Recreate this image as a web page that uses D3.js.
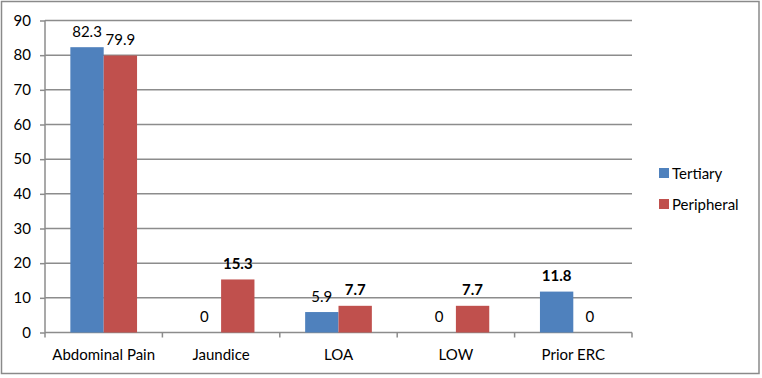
<!DOCTYPE html>
<html><head><meta charset="utf-8">
<script src="https://cdn.jsdelivr.net/npm/d3@7"></script>
<style>body{margin:0;background:#fff}svg{display:block}text{font-family:Lato,"Open Sans",sans-serif;fill:#000}</style>
</head><body>
<script>
const categories = ["Abdominal Pain","Jaundice","LOA","LOW","Prior ERC"];
const seriesNames = ["Tertiary","Peripheral"];
const tertiary = [82.3, 0, 5.9, 0, 11.8];
const peripheral = [79.9, 15.3, 7.7, 7.7, 0];
const yTicks = [0,10,20,30,40,50,60,70,80,90];
const colors = ["#4F81BD","#C0504D"];

const W=762,H=378;
const svg=d3.select("body").append("svg").attr("width",W).attr("height",H);
svg.append("rect").attr("x",1.5).attr("y",1.5).attr("width",757.5).attr("height",372).attr("fill","#fff").attr("stroke","#8a8a8a").attr("stroke-width",1.5);

const pL=45,pR=632,pT=20.5,pB=332.5;
const y=d3.scaleLinear().domain([0,90]).range([pB,pT]);
const x=d3.scaleBand().domain(categories).range([pL,pR]).paddingInner(0).paddingOuter(0);
const x1=d3.scaleBand().domain(seriesNames).range([0,x.bandwidth()]).paddingInner(0).paddingOuter(0.76);

// gridlines
svg.append("g").selectAll("line").data(yTicks.filter(d=>d>0)).join("line")
  .attr("x1",pL).attr("x2",pR).attr("y1",d=>y(d)).attr("y2",d=>y(d))
  .attr("stroke","#8c8c8c").attr("stroke-width",1.5);

// y axis
const yAxis=d3.axisLeft(y).tickValues(yTicks).tickSize(5).tickPadding(9).tickFormat(d3.format("d"));
const gy=svg.append("g").attr("transform",`translate(${pL},0)`).call(yAxis);
gy.select(".domain").attr("stroke","#8c8c8c").attr("stroke-width",1.5).attr("d",`M0,${pB}V${pT}`);
gy.selectAll(".tick line").attr("stroke","#8c8c8c").attr("stroke-width",1.5);
gy.selectAll("text").style("font-size","15px").style("font-family","Lato").attr("fill","#000");

// x axis
const gx=svg.append("g").attr("transform",`translate(0,${pB})`);
gx.append("line").attr("x1",pL).attr("x2",pR).attr("stroke","#8c8c8c").attr("stroke-width",1.5);
const bounds=categories.map(c=>x(c)).concat([pR]);
gx.selectAll(".bt").data(bounds).join("line").attr("class","bt")
  .attr("x1",d=>d).attr("x2",d=>d).attr("y1",0).attr("y2",5).attr("stroke","#8c8c8c").attr("stroke-width",1.5);
gx.selectAll(".cl").data(categories).join("text").attr("class","cl")
  .attr("x",d=>x(d)+x.bandwidth()/2).attr("y",27).attr("text-anchor","middle")
  .style("font-size","15px").text(d=>d);

// bars
const series=[tertiary,peripheral];
const bold=[[false,false,false,false,true],[false,true,true,true,false]];
series.forEach((vals,si)=>{
  const g=svg.append("g");
  g.selectAll("rect").data(vals).join("rect")
    .attr("x",(d,i)=>x(categories[i])+x1(seriesNames[si]))
    .attr("width",x1.bandwidth())
    .attr("y",d=>y(d)).attr("height",d=>pB-y(d))
    .attr("fill",colors[si]);
  g.selectAll("text").data(vals).join("text")
    .attr("x",(d,i)=>x(categories[i])+x1(seriesNames[si])+x1.bandwidth()/2)
    .attr("y",d=>y(d)-10.5).attr("text-anchor","middle")
    .style("font-size","15px").style("font-weight",(d,i)=>bold[si][i]?"bold":"normal")
    .text(d=>d);
});

// legend
const lg=svg.append("g").attr("transform","translate(659,168)");
seriesNames.forEach((s,i)=>{
  lg.append("rect").attr("x",0).attr("y",i*31).attr("width",10).attr("height",10).attr("fill",colors[i]);
  lg.append("text").attr("x",13).attr("y",i*31+10.5).style("font-size","15px").text(s);
});
</script>
</body></html>
